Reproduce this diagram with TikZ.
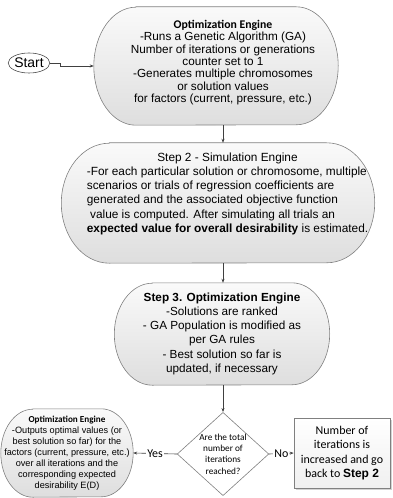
\documentclass[tikz,border=0pt]{standalone}
\usepackage{fontspec}
\setmainfont{Liberation Sans}
\newfontfamily\calibri{Carlito}
\usetikzlibrary{shapes.geometric}
\usetikzlibrary{arrows.meta}
\usetikzlibrary{shadows}
\usetikzlibrary{backgrounds}

\tikzset{
	link/.style={draw=black!75, line width=0.6bp, -{Stealth[length=4bp,width=3bp]}},
	engine/.style={inner sep=0pt},
	stadium/.style={draw=black!50, line width=0.6bp, top color=black!2, bottom color=black!13},
	decision/.style={diamond, draw=black!50, line width=0.6bp, fill=white, aspect=1.1, inner sep=0pt, align=center, font=\calibri\fontsize{9.3}{11.3}\selectfont},
	startnode/.style={ellipse, draw=black!70, line width=0.6bp, inner sep=0pt, minimum width=41bp, minimum height=20bp, font=\fontsize{14}{16}\selectfont},
	update/.style={draw=black!50, line width=0.6bp, top color=white, bottom color=black!6, drop shadow={shadow xshift=2bp, shadow yshift=-2bp, opacity=0.35}, align=center, font=\calibri\fontsize{12}{14.5}\selectfont},
	answer/.style={fill=white, inner sep=1bp, font=\calibri\fontsize{12}{13}\selectfont}
}

\begin{document}
\begin{tikzpicture}[x=1bp, y=-1bp]
		\useasboundingbox (0,0) rectangle (392,498);
		\node[startnode] (start) at (29,63) {Start};
		\node[engine, minimum width=244bp, minimum height=118bp, font=\fontsize{11.8}{12.5}\selectfont] (opt1) at (216,66) {%
			\begin{tabular}{@{\hspace{14bp}}c@{}}
			{\calibri\bfseries Optimization Engine}\\
			-Runs a Genetic Algorithm (GA)\\
			Number of iterations or generations\\
			counter set to 1\\
			-Generates multiple chromosomes\\
			or solution values\\
			for factors (current, pressure, etc.)\\[6bp]
			\end{tabular}};
		\node[engine, minimum width=313bp, minimum height=120bp, font=\fontsize{11.9}{14.2}\selectfont] (sim) at (218,203) {%
			\begin{tabular}{@{\hspace{19bp}}l@{}}
			\multicolumn{1}{@{\hspace{19bp}}c@{}}{Step 2 - Simulation Engine}\\
			-For each particular solution or chromosome, multiple\\
			scenarios or trials of regression coefficients are\\
			generated and the associated objective function\\
			\ value is computed. After simulating all trials an\\
			\textbf{expected value for overall desirability} is estimated.\\[18bp]
			\end{tabular}};
		\node[engine, minimum width=215bp, minimum height=102bp, font=\fontsize{11.8}{14.3}\selectfont] (rank) at (222,334) {%
			\begin{tabular}{@{}c@{}}
			\textbf{Step 3. Optimization Engine}\\
			-Solutions are ranked\\
			- GA Population is modified as\\
			per GA rules\\
			- Best solution so far is\\
			updated, if necessary
			\end{tabular}};
		\node[decision] (check) at (223,454) {Are the total\\number of\\iterations\\reached?};
		\node[engine, minimum width=132bp, minimum height=88bp, font=\fontsize{9.2}{11}\selectfont] (out) at (67,453) {%
			\begin{tabular}{@{}c@{}}
			{\calibri\bfseries Optimization Engine}\\
			-Outputs optimal values (or\\
			best solution so far) for the\\
			factors (current, pressure, etc.)\\
			over all iterations and the\\
			corresponding expected\\
			desirability E(D)
			\end{tabular}};
		\node[update, minimum width=96bp, minimum height=70bp, inner sep=0pt] (incr) at (342,453) {Number of\\iterations is\\increased and go\\back to {\fontspec{Liberation Sans}\bfseries Step 2}};

		% rounded ends of the engine boxes
		\begin{pgfonlayer}{background}
			\foreach \n/\rx/\ry in {opt1/42/59, sim/48/60, rank/38/51, out/32/44}
				\path[stadium] ([xshift=\rx bp]\n.north west) -- ([xshift=-\rx bp]\n.north east)
					arc[start angle=90, end angle=-90, x radius=\rx bp, y radius=\ry bp]
					-- ([xshift=\rx bp]\n.south west)
					arc[start angle=270, end angle=90, x radius=\rx bp, y radius=\ry bp] -- cycle;
		\end{pgfonlayer}

		\draw[link] (start.east) -- ++(10,0) |- (opt1.west);
		\draw[link] (opt1.south -| check.north) -- (sim.north -| check.north);
		\draw[link] (sim.south -| check.north) -- (rank.north -| check.north);
		\draw[link] (rank.south -| check.north) -- (check.north);
		\draw[link] (check.west) -- node[answer] {Yes} (out.east);
		\draw[link] (check.east) -- node[answer] {No} (incr.west);
\end{tikzpicture}
\end{document}
